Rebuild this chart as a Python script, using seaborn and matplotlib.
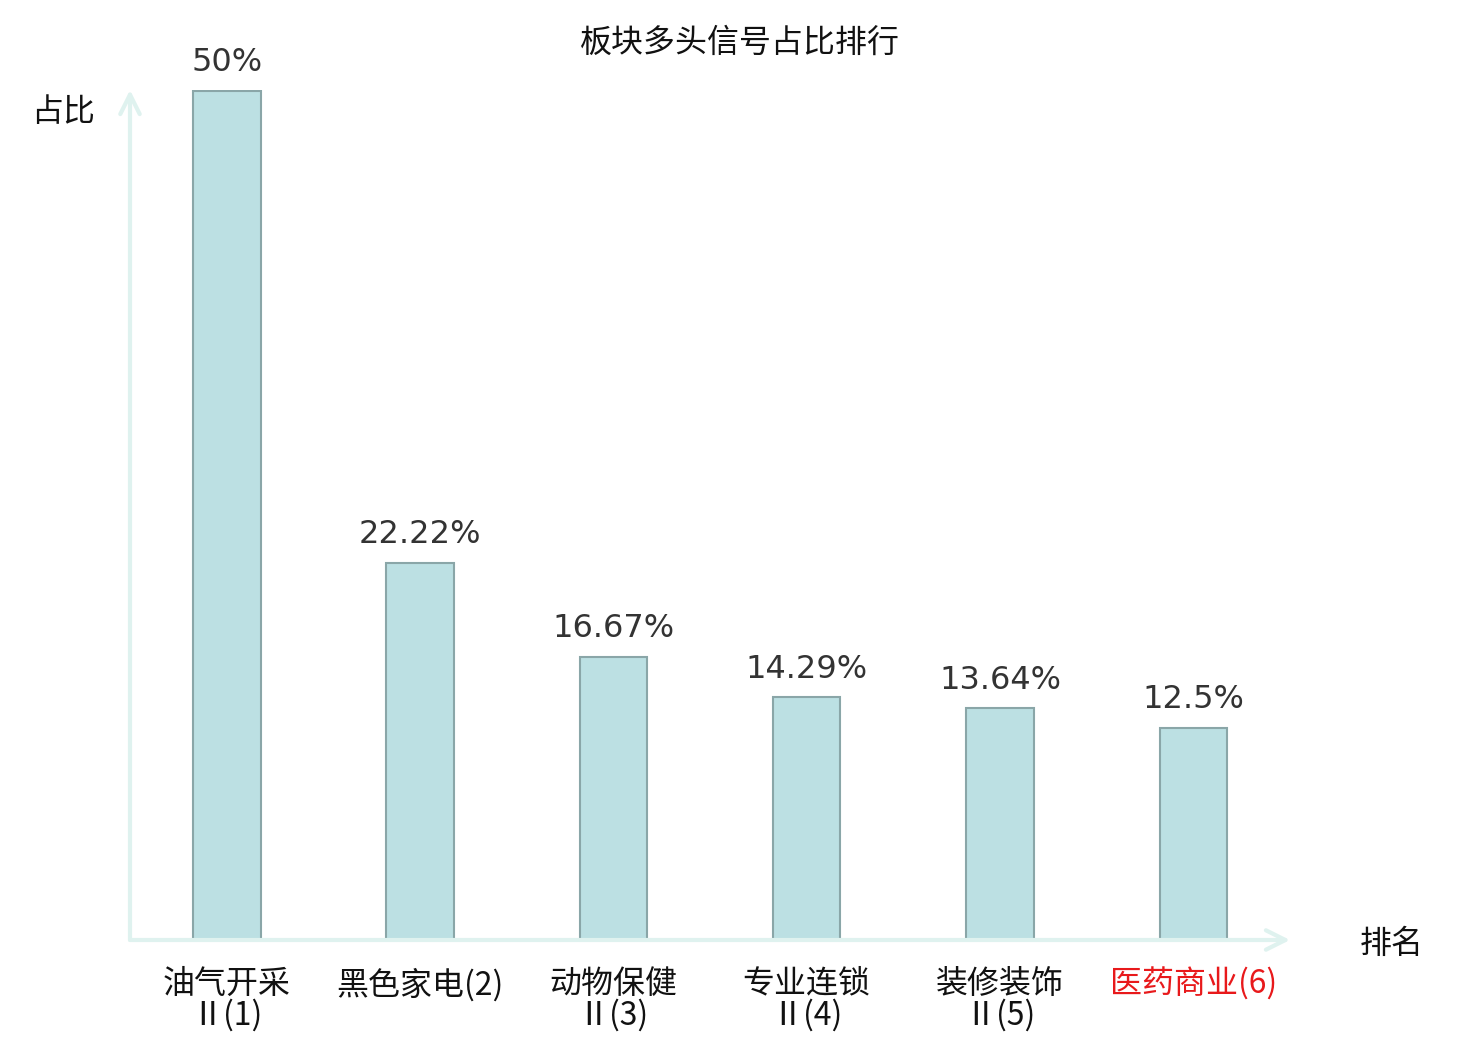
import matplotlib
matplotlib.use("Agg")
import matplotlib.pyplot as plt
import seaborn as sns
import pandas as pd

categories = ["油气开采\nⅡ(1)", "黑色家电(2)", "动物保健\nⅡ(3)", "专业连锁\nⅡ(4)", "装修装饰\nⅡ(5)", "医药商业(6)"]
values = [50, 22.22, 16.67, 14.29, 13.64, 12.5]
value_labels = ["50%", "22.22%", "16.67%", "14.29%", "13.64%", "12.5%"]
label_colors = ["#111111", "#111111", "#111111", "#111111", "#111111", "#e8191b"]

sns.set_theme(style="white")
plt.rcParams["font.family"] = ["Noto Sans CJK SC", "DejaVu Sans"]

fig = plt.figure(figsize=(14.8, 10.4), dpi=100)
ax = fig.add_axes([130/1480, 100/1040, 1160/1480, 850/1040])

df = pd.DataFrame({"cat": categories, "val": values})
sns.barplot(data=df, x="cat", y="val", order=categories, width=0.35,
            color="#bce0e3", edgecolor="#8aa6a8", linewidth=1.5, saturation=1, ax=ax)

ax.set_xlim(-0.5, 5.5)
ax.set_ylim(0, 50.05)
for s in ax.spines.values():
    s.set_visible(False)
ax.set_yticks([])
ax.set_xlabel("")
ax.set_ylabel("")
ax.tick_params(axis="x", length=0, pad=20)
ax.set_xticks(range(len(categories)))
ax.set_xticklabels(categories, fontsize=23, linespacing=0.97)
for t, c in zip(ax.get_xticklabels(), label_colors):
    t.set_color(c)

for i, (v, lab) in enumerate(zip(values, value_labels)):
    ax.annotate(lab, xy=(i, v), xytext=(0, 9), textcoords="offset points",
                ha="center", va="bottom", fontsize=23, color="#333333",
                family="DejaVu Sans")

arrow_color = "#dff2ef"
ax.annotate("", xy=(1.0, 0), xytext=(0, 0), xycoords="axes fraction",
            arrowprops=dict(arrowstyle="->", color=arrow_color, lw=3, mutation_scale=35,
                            shrinkA=0, shrinkB=0), annotation_clip=False)
ax.annotate("", xy=(0, 1.0), xytext=(0, 0), xycoords="axes fraction",
            arrowprops=dict(arrowstyle="->", color=arrow_color, lw=3, mutation_scale=35,
                            shrinkA=0, shrinkB=0), annotation_clip=False)

ax.text(-0.058, 0.974, "占比", transform=ax.transAxes, ha="center", va="center",
        fontsize=23, color="#111111")
ax.text(1.088, -0.005, "排名", transform=ax.transAxes, ha="center", va="center",
        fontsize=23, color="#111111")

fig.text(740/1480, 1 - 43/1040, "板块多头信号占比排行", ha="center", va="center",
         fontsize=23, color="#111111")

fig.savefig("out.png", dpi=100, facecolor="white")
